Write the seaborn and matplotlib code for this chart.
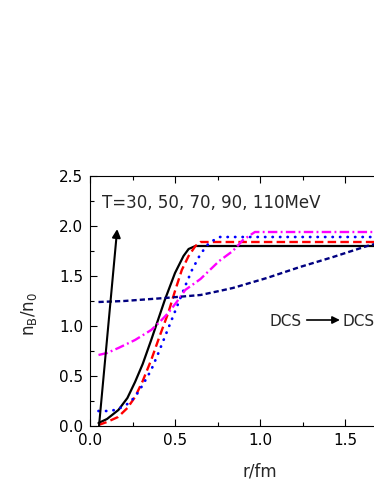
import numpy as np
import pandas as pd
import matplotlib
matplotlib.use("Agg")
import matplotlib.pyplot as plt
import matplotlib.ticker as mticker
import seaborn as sns

# curves, r in fm, density in units of n0
r_t30 = [0.05, 0.10, 0.167, 0.22, 0.265, 0.31, 0.36, 0.40, 0.44, 0.50, 0.55, 0.58, 0.62, 2.0]
n_t30 = [0.03, 0.07, 0.16, 0.28, 0.44, 0.62, 0.86, 1.06, 1.26, 1.53, 1.70, 1.77, 1.80, 1.80]

r_t50 = [0.05, 0.10, 0.165, 0.22, 0.265, 0.31, 0.36, 0.41, 0.46, 0.50, 0.54, 0.58, 0.62, 0.65, 2.0]
n_t50 = [0.01, 0.04, 0.09, 0.18, 0.29, 0.45, 0.66, 0.90, 1.13, 1.35, 1.56, 1.70, 1.80, 1.84, 1.84]

r_t70 = [0.05, 0.12, 0.167, 0.22, 0.265, 0.31, 0.36, 0.40, 0.44, 0.48, 0.52, 0.56, 0.60, 0.65, 0.70, 0.76, 2.0]
n_t70 = [0.15, 0.15, 0.17, 0.22, 0.29, 0.41, 0.56, 0.72, 0.89, 1.06, 1.23, 1.40, 1.56, 1.72, 1.83, 1.89, 1.89]

r_t90 = [0.05, 0.10, 0.167, 0.265, 0.36, 0.41, 0.46, 0.51, 0.56, 0.65, 0.76, 0.84, 0.90, 0.97, 2.0]
n_t90 = [0.71, 0.73, 0.78, 0.86, 0.96, 1.04, 1.13, 1.24, 1.36, 1.47, 1.65, 1.75, 1.86, 1.94, 1.94]

r_t110 = [0.05, 0.20, 0.44, 0.65, 0.76, 0.84, 1.04, 1.235, 1.43, 1.63, 1.70]
n_t110 = [1.24, 1.25, 1.28, 1.31, 1.35, 1.38, 1.48, 1.59, 1.69, 1.80, 1.83]

# (r, n, colour, linestyle, linewidth, capstyle)
series = [
    (r_t30, n_t30, "black", "-", 1.6, "butt"),
    (r_t50, n_t50, "#ff0000", (0, (3.6, 1.8)), 1.7, "butt"),
    (r_t70, n_t70, "#0000ff", (0, (0.1, 2.6)), 2.0, "round"),
    (r_t90, n_t90, "#ff00ff", (0, (4.0, 1.4, 0.8, 1.4)), 1.7, "butt"),
    (r_t110, n_t110, "#000080", (0, (2.2, 1.3)), 1.7, "butt"),
]

sns.set_style("ticks")
plt.rcParams["font.family"] = ["DejaVu Sans"]
plt.rcParams["mathtext.default"] = "regular"

fig = plt.figure(figsize=(3.74, 4.84), dpi=100)
# axes runs past the right edge, as in the cropped original
ax = fig.add_axes([90 / 374, 58 / 484, 340 / 374, 250 / 484])

for r, n, col, ls, lw, cap in series:
    df = pd.DataFrame({"r": r, "n": n})
    sns.lineplot(data=df, x="r", y="n", ax=ax, color=col, linestyle=ls,
                 linewidth=lw, dash_capstyle=cap, estimator=None, sort=False)

ax.set_xlim(0, 2.0)
ax.set_ylim(0, 2.5)
ax.xaxis.set_major_locator(mticker.MultipleLocator(0.5))
ax.yaxis.set_major_locator(mticker.MultipleLocator(0.5))
ax.xaxis.set_minor_locator(mticker.AutoMinorLocator(2))
ax.yaxis.set_minor_locator(mticker.AutoMinorLocator(2))
ax.xaxis.set_major_formatter(mticker.FormatStrFormatter("%.1f"))
ax.yaxis.set_major_formatter(mticker.FormatStrFormatter("%.1f"))
ax.tick_params(which="both", direction="in", top=True, right=False,
               labelsize=11, width=0.8, colors="black")
ax.tick_params(which="major", length=5)
ax.tick_params(which="minor", length=3)
ax.tick_params(axis="y", pad=5)
ax.tick_params(axis="x", pad=5)
for s in ax.spines.values():
    s.set_linewidth(0.8)
    s.set_color("black")
ax.spines["right"].set_visible(False)

ax.set_xlabel("r/fm", fontsize=12)
ax.set_ylabel("$n_B/n_0$", fontsize=12)
ax.xaxis.set_label_coords(0.5, -0.148)
ax.yaxis.set_label_coords(-0.15, 0.45)

ax.annotate("", xy=(0.16, 1.97), xytext=(0.053, 0.0),
            arrowprops=dict(arrowstyle="-|>", color="black", lw=1.5,
                            mutation_scale=12, shrinkA=0, shrinkB=0))
ax.text(0.07, 2.23, "T=30, 50, 70, 90, 110MeV", fontsize=12, va="center")

ax.text(1.055, 1.04, "DCS", fontsize=11, va="center")
ax.annotate("", xy=(1.47, 1.06), xytext=(1.275, 1.06),
            arrowprops=dict(arrowstyle="-|>", color="black", lw=1.2,
                            mutation_scale=11, shrinkA=0, shrinkB=0))
ax.text(1.488, 1.04, "DCS", fontsize=11, va="center")

fig.savefig("out.png", dpi=100)
plt.close(fig)
